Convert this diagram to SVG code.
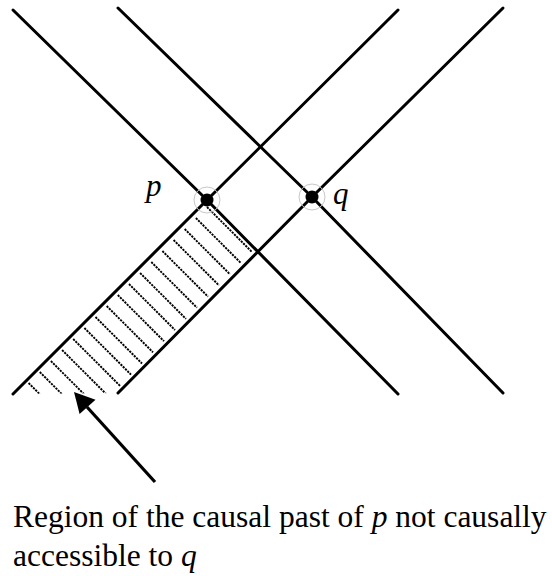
<svg xmlns="http://www.w3.org/2000/svg" width="552" height="576" viewBox="0 0 552 576">
<style>
.cone{stroke:#000;stroke-width:3;stroke-linecap:round;fill:none}
.hatch{stroke:#000;stroke-width:1.9;stroke-dasharray:2.2 1;fill:none}
.halo{fill:none;stroke:#c8c8c8;stroke-width:1}
.dot{fill:#000}
.lbl{font-family:"Times New Roman","Liberation Serif",serif;font-style:italic;font-size:31px;fill:#000}
.cap{font-family:"Liberation Serif","Times New Roman",serif;font-size:31.5px;fill:#000}
.it{font-family:"Times New Roman","Liberation Serif",serif;font-style:italic}
</style>
<defs>
<clipPath id="band"><polygon points="207,200 258,252 118,393 13,394 0,394 0,392 13,392"/></clipPath>
</defs>
<rect width="552" height="576" fill="#fff"/>
<g id="hatching" clip-path="url(#band)">
<line class="hatch" x1="207" y1="207" x2="252" y2="252"/>
<line class="hatch" x1="195.9" y1="218" x2="241" y2="263.1"/>
<line class="hatch" x1="184.7" y1="229" x2="230" y2="274.3"/>
<line class="hatch" x1="173.6" y1="240" x2="219" y2="285.4"/>
<line class="hatch" x1="162.4" y1="251" x2="208" y2="296.6"/>
<line class="hatch" x1="151.3" y1="262" x2="197" y2="307.7"/>
<line class="hatch" x1="140.1" y1="273" x2="186" y2="318.9"/>
<line class="hatch" x1="129" y1="284" x2="175" y2="330"/>
<line class="hatch" x1="117.8" y1="295" x2="164" y2="341.2"/>
<line class="hatch" x1="106.7" y1="306" x2="153" y2="352.3"/>
<line class="hatch" x1="95.5" y1="317" x2="142" y2="363.5"/>
<line class="hatch" x1="84.4" y1="328" x2="131" y2="374.6"/>
<line class="hatch" x1="73.2" y1="339" x2="120" y2="385.8"/>
<line class="hatch" x1="62.1" y1="350" x2="109" y2="396.9"/>
<line class="hatch" x1="50.9" y1="361" x2="98" y2="408.1"/>
<line class="hatch" x1="39.8" y1="372" x2="87" y2="419.2"/>
<line class="hatch" x1="28.6" y1="383" x2="76" y2="430.4"/>
</g>
<g id="light-cones">
<line class="cone" x1="13" y1="10" x2="207" y2="200"/>
<line class="cone" x1="398" y1="10" x2="207" y2="200"/>
<line class="cone" x1="207" y1="200" x2="13" y2="394"/>
<line class="cone" x1="207" y1="200" x2="398" y2="394"/>
<line class="cone" x1="118" y1="8" x2="312" y2="197"/>
<line class="cone" x1="503" y1="8" x2="312" y2="197"/>
<line class="cone" x1="312" y1="197" x2="118" y2="393"/>
<line class="cone" x1="312" y1="197" x2="503" y2="393"/>
</g>
<g id="point-p">
<circle class="halo" cx="207" cy="200" r="13"/>
<circle class="dot" cx="207" cy="200" r="6.5"/>
<text class="lbl" x="146" y="196">p</text>
</g>
<g id="point-q">
<circle class="halo" cx="312" cy="197" r="13"/>
<circle class="dot" cx="312" cy="197" r="6.5"/>
<text class="lbl" x="333" y="204">q</text>
</g>
<g id="arrow">
<line x1="155" y1="482" x2="87" y2="407" stroke="#000" stroke-width="3.2"/>
<polygon points="74,392 95.5,399.8 79.6,414" fill="#000"/>
</g>
<g id="caption">
<text class="cap" x="13" y="527">Region of the causal past of <tspan class="it">p</tspan> not causally</text>
<text class="cap" x="13" y="566">accessible to <tspan class="it">q</tspan></text>
</g>
</svg>
